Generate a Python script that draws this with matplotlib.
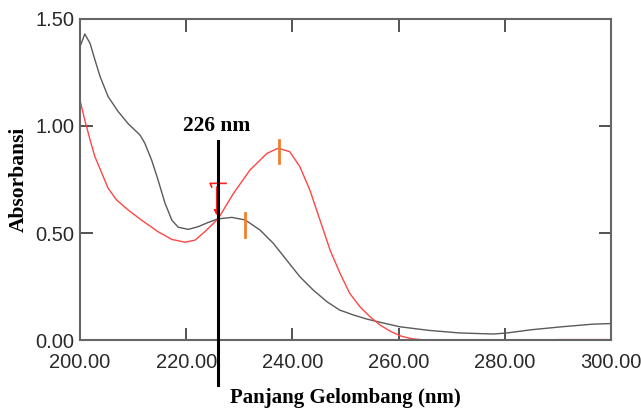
import numpy as np
import matplotlib.pyplot as plt

# spectra
wl_gray = [200, 200.9, 201.9, 202.8, 203.8, 205.3, 207.2, 209.1, 211.3, 212.2, 213.5, 214.7, 216, 217.3,
           218.5, 220.4, 222.3, 224.2, 226, 228.6, 231.1, 233.9, 236.4, 238.9, 241.4, 243.9, 246.5,
           248.9, 251.5, 254, 256.5, 260.2, 265.7, 271.5, 277.9, 280.4, 285, 290.8, 296.5, 300]
abs_gray = [1.37, 1.43, 1.386, 1.31, 1.23, 1.137, 1.067, 1.01, 0.958, 0.92, 0.84, 0.748, 0.64, 0.56,
            0.527, 0.517, 0.53, 0.55, 0.566, 0.573, 0.561, 0.514, 0.452, 0.374, 0.296, 0.234, 0.179,
            0.14, 0.117, 0.098, 0.083, 0.062, 0.045, 0.033, 0.028, 0.033, 0.048, 0.062, 0.074, 0.077]

wl_red = [200, 200.9, 201.9, 202.8, 204.1, 205.3, 206.9, 209.1, 211.6, 214.7, 217.3, 219.8, 221.7,
          223.5, 226, 228.9, 232, 235.2, 237.3, 239.5, 241.4, 243.3, 245.2, 247.1, 249, 250.8, 252.7,
          254.6, 256.5, 258.5, 260.5, 262.5, 265, 265.1, 289.9, 290, 295, 300]
abs_red = [1.12, 1.028, 0.935, 0.857, 0.78, 0.709, 0.654, 0.607, 0.56, 0.506, 0.47, 0.457, 0.467,
           0.506, 0.566, 0.685, 0.794, 0.872, 0.896, 0.88, 0.81, 0.70, 0.56, 0.42, 0.31, 0.218, 0.156,
           0.109, 0.07, 0.04, 0.018, 0.006, 0.0, np.nan, np.nan, 0.002, 0.002, 0.002]

peak_marks = [(237.4, 0.827, 0.935), (231.1, 0.481, 0.593)]
marker_wl = 226
marker_label = "226 nm"
xticks = [200, 220, 240, 260, 280, 300]
yticks = [0, 0.5, 1.0, 1.5]

fig = plt.figure(figsize=(6.41, 4.11), dpi=100)
ax = fig.add_axes([0.1248, 0.1727, 0.8284, 0.7811])

ax.plot(wl_gray, abs_gray, color='#5a5a5a', lw=1.0)
ax.plot(wl_red, abs_red, color='#ff4545', lw=1.0)

for x, y0, y1 in peak_marks:
    ax.plot([x, x], [y0, y1], color='#f07f2a', lw=2, zorder=4)

# small red valley indicator
ax.plot([224.8, 224.5, 227.5], [0.715, 0.732, 0.732], color='#ff2020', lw=1.2)
ax.annotate('', xy=(225.7, 0.57), xytext=(225.7, 0.73),
            arrowprops=dict(arrowstyle='-|>', color='#ff2020', lw=0.8, mutation_scale=8))

ax.plot([marker_wl, marker_wl], [-0.21, 0.93], color='black', lw=2.2, clip_on=False, zorder=5)
ax.text(marker_wl - 0.3, 0.975, marker_label, ha='center', va='baseline', fontsize=15.5,
        fontweight='bold', family='Liberation Serif')

ax.set_xlim(200, 300)
ax.set_ylim(0, 1.5)
ax.set_xticks(xticks)
ax.set_yticks(yticks)
ax.set_xticklabels(['%.2f' % v for v in xticks])
ax.set_yticklabels(['%.2f' % v for v in yticks])
ax.tick_params(direction='in', length=9, width=1.3, color='#444444', labelsize=14.5,
               top=True, right=True, labelcolor='#2a2a2a')
ax.tick_params(axis='x', pad=9)
ax.tick_params(axis='y', pad=4)
for lab in ax.get_xticklabels() + ax.get_yticklabels():
    lab.set_family('Liberation Sans')
for s in ax.spines.values():
    s.set_color('#666666')
    s.set_linewidth(1.5)

ax.set_xlabel('Panjang Gelombang (nm)', fontsize=15, fontweight='bold', family='Liberation Serif', labelpad=12)
ax.set_ylabel('Absorbansi', fontsize=15.5, fontweight='bold', family='Liberation Serif', labelpad=5)

fig.savefig('out.png', dpi=100)
